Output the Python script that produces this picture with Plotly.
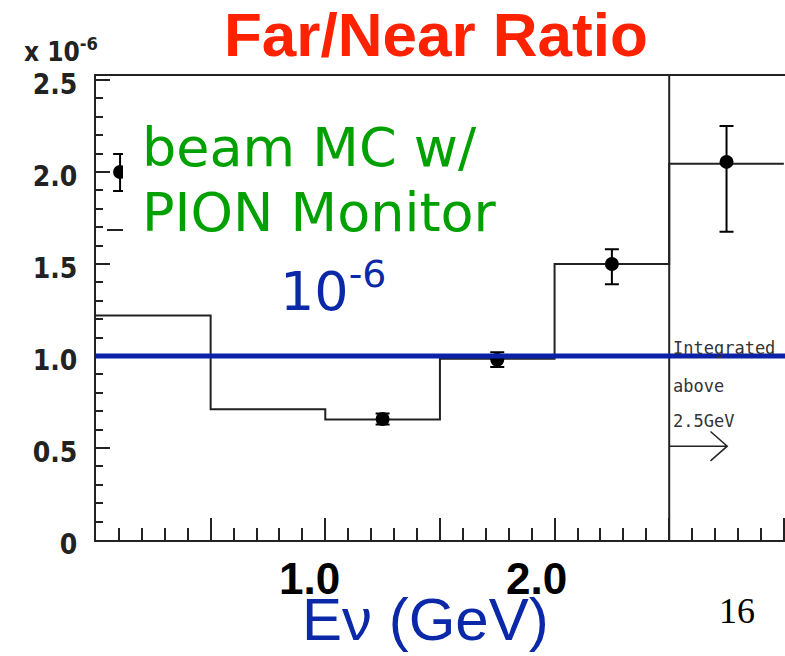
import plotly.graph_objects as go

# ---- data -------------------------------------------------------------
# MC prediction, far/near ratio per 0.5 GeV bin (last bin: integrated above 2.5 GeV)
bin_edges = [0.0, 0.5, 1.0, 1.5, 2.0, 2.5, 3.0]
mc_ratio = [1.22, 0.71, 0.655, 0.985, 1.50, 2.045]

# measured points (units of 1e-6)
pt_energy = [0.105, 1.25, 1.75, 2.25, 2.75]
pt_ratio = [2.00, 0.658, 0.98, 1.50, 2.055]
pt_err_up = [0.098, 0.03, 0.04, 0.08, 0.195]
pt_err_dn = [0.103, 0.03, 0.04, 0.11, 0.38]

# stray level segment near the first point
seg_energy = [0.048, 0.15]
seg_ratio = [1.685, 1.685]

ref_level = 1.0
integ_edge = 2.5

y_tickvals = [0, 0.5, 1.0, 1.5, 2.0, 2.5]
y_ticktext = ["0", "0.5", "1.0", "1.5", "2.0", "2.5"]

# ---- geometry helpers (pixel -> paper) ----------------------------------
W, H = 785, 656
L, R, T, B = 96, 0, 76, 116
PW, PH = W - L - R, H - T - B


def px(x):
    return (x - L) / PW


def py(y):
    return (H - B - y) / PH


XMAX, YMAX = 3.005, 2.522

fig = go.Figure()

# MC histogram as steps
fig.add_trace(go.Scatter(
    x=bin_edges,
    y=mc_ratio + [mc_ratio[-1]],
    mode="lines",
    line=dict(color="#222222", width=2, shape="hv"),
    hoverinfo="skip",
    showlegend=False,
))

fig.add_trace(go.Scatter(
    x=seg_energy, y=seg_ratio, mode="lines",
    line=dict(color="#222222", width=2),
    hoverinfo="skip", showlegend=False,
))

# data points with error bars
fig.add_trace(go.Scatter(
    x=pt_energy,
    y=pt_ratio,
    mode="markers",
    marker=dict(color="black", size=14, symbol="circle"),
    error_y=dict(type="data", symmetric=False, array=pt_err_up,
                 arrayminus=pt_err_dn, color="black", thickness=2, width=7),
    showlegend=False,
))

shapes = [
    # boundary of the integrated bin
    dict(type="line", xref="x", yref="y", x0=integ_edge, x1=integ_edge,
         y0=0, y1=YMAX, line=dict(color="#222222", width=2), layer="above"),
    # unit ratio reference
    dict(type="line", xref="paper", yref="y", x0=0, x1=1,
         y0=ref_level, y1=ref_level, line=dict(color="#0b22a8", width=5),
         layer="above"),
    # text panel background
    dict(type="rect", xref="paper", yref="paper", x0=px(123), x1=px(505),
         y0=py(258), y1=py(100), fillcolor="white", line=dict(width=0),
         layer="above"),
    # arrow for the integrated bin
    dict(type="path", xref="x", yref="y",
         path=f"M {integ_edge},0.51 L 2.753,0.51 M 2.68,0.59 L 2.753,0.51 L 2.68,0.43",
         line=dict(color="#222222", width=1.5), layer="above"),
]

ann = []


def add_text(text, x, y, size, color, family, xanchor="center", yanchor="middle",
             weight="normal"):
    ann.append(dict(text=text, x=px(x), y=py(y), xref="paper", yref="paper",
                    showarrow=False, xanchor=xanchor, yanchor=yanchor,
                    font=dict(size=size, color=color, family=family,
                              weight=weight)))


SANS = "Liberation Sans, Arial, sans-serif"
VERD = "DejaVu Sans, Verdana, sans-serif"
NARROW = "Liberation Sans Narrow, DejaVu Sans Condensed, Arial Narrow, sans-serif"
MONO = "DejaVu Sans Mono, Liberation Mono, monospace"

add_text("<b>Far/Near Ratio</b>", 436, 34, 62, "#ff2200", SANS)
add_text("beam MC w/", 140, 147, 54, "#00a000", VERD, xanchor="left")
add_text("PION Monitor", 140, 212, 54, "#00a000", VERD, xanchor="left")
add_text("10<sup>-6</sup>", 278, 287, 54, "#0a28a8", VERD, xanchor="left")
add_text("x 10<sup>-6</sup>", 22, 50, 26, "#222222", NARROW, xanchor="left",
         weight="bold")
add_text("Integrated", 671, 348, 17, "#333333", MONO, xanchor="left")
add_text("above", 671, 386, 17, "#333333", MONO, xanchor="left")
add_text("2.5GeV", 671, 421, 17, "#333333", MONO, xanchor="left")
add_text("<b>1.0</b>", 309, 578, 44, "black", SANS)
add_text("<b>2.0</b>", 536, 578, 44, "black", SANS)
add_text("Eν (GeV)", 425, 619, 60, "#0a28a8", SANS)
add_text("16", 737, 611, 36, "black", "Liberation Serif, Times New Roman, serif")

fig.update_layout(
    width=W, height=H, autosize=False,
    margin=dict(l=L, r=R, t=T, b=B, pad=0),
    paper_bgcolor="white", plot_bgcolor="white",
    shapes=shapes, annotations=ann,
    xaxis=dict(
        range=[0, XMAX], showgrid=False, zeroline=False,
        showline=True, linecolor="#222222", linewidth=2, mirror=True,
        ticks="inside", tickmode="linear", tick0=0, dtick=0.5,
        ticklen=22, tickwidth=2, tickcolor="#222222",
        showticklabels=False,
        minor=dict(ticks="inside", dtick=0.1, tick0=0, ticklen=12,
                   tickwidth=2, tickcolor="#222222", showgrid=False),
    ),
    yaxis=dict(
        range=[0, YMAX], showgrid=False, zeroline=False,
        showline=True, linecolor="#222222", linewidth=2,
        ticks="inside", tickvals=y_tickvals, ticktext=y_ticktext,
        ticklen=14, tickwidth=2, tickcolor="#222222",
        ticklabelstandoff=11, ticklabelshift=4,
        tickfont=dict(family=NARROW, size=28, color="#222222", weight="bold"),
        minor=dict(ticks="inside", dtick=0.1, tick0=0, ticklen=7,
                   tickwidth=2, tickcolor="#222222", showgrid=False),
    ),
)

fig.write_html("out.html")
